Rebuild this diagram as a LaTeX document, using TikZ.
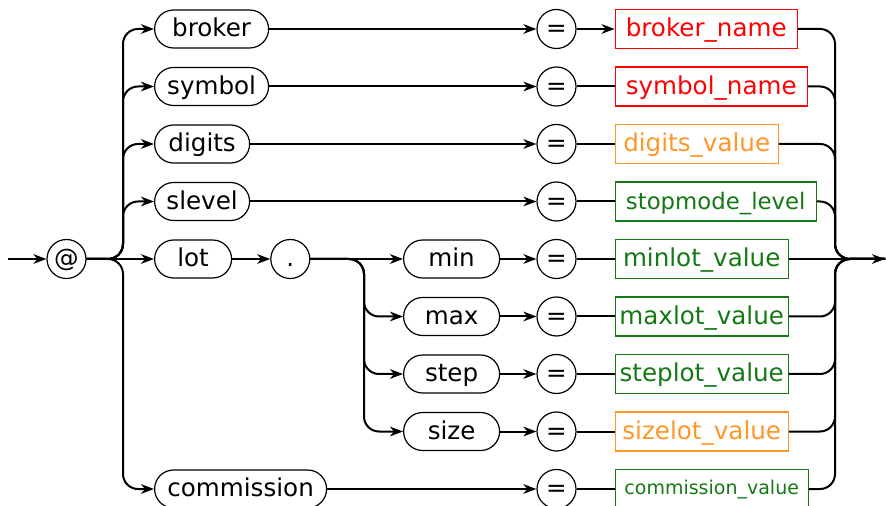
\documentclass[tikz,border=0pt]{standalone}
\usepackage{fontspec}
\setmainfont{DejaVu Sans}
\usetikzlibrary{shapes.geometric, arrows.meta, calc, positioning}
\definecolor{valred}{RGB}{255,0,0}
\definecolor{valorange}{RGB}{255,150,40}
\definecolor{valgreen}{RGB}{20,120,20}
\tikzstyle{term} = [rectangle, rounded corners=9.5pt, minimum height=19pt, inner sep=0pt, text height=10pt, text depth=2.3pt, draw=black, line width=0.6pt, font=\fontsize{12.3}{14}\selectfont]
\tikzstyle{sym} = [circle, minimum size=19.5pt, inner sep=0pt, text height=10pt, text depth=2.3pt, draw=black, line width=0.6pt, font=\fontsize{12.3}{14}\selectfont]
\tikzstyle{value} = [rectangle, minimum height=19.5pt, inner sep=0pt, text height=10pt, text depth=2.3pt, line width=0.6pt, font=\fontsize{12.3}{14}\selectfont]
\tikzstyle{valuered} = [value, draw=valred, text=valred]
\tikzstyle{valueorange} = [value, draw=valorange, text=valorange]
\tikzstyle{valuegreen} = [value, draw=valgreen, text=valgreen]
\tikzstyle{line} = [line width=1pt, rounded corners=7.5pt]
\tikzstyle{arrow} = [line, ->, >={Stealth[length=6.5pt, width=4.8pt, inset=2pt]}]

\begin{document}
\begin{tikzpicture}[x=0.5pt, y=-0.5pt, node distance=28.75pt]
\useasboundingbox (0,0) rectangle (886,506);

\node (at) [sym] at (66.5,259) {@};

% the "=" column
\node (eqbroker) [sym] at (556.5,29) {=};
\node (eqsymbol) [sym, below of=eqbroker] {=};
\node (eqdigits) [sym, below of=eqsymbol] {=};
\node (eqslevel) [sym, below of=eqdigits] {=};
\node (eqmin) [sym, below of=eqslevel] {=};
\node (eqmax) [sym, below of=eqmin] {=};
\node (eqstep) [sym, below of=eqmax] {=};
\node (eqsize) [sym, below of=eqstep] {=};
\node (eqcomm) [sym, below of=eqsize] {=};

% keywords
\node (broker) [term, minimum width=57pt, anchor=west] at (154,29) {broker};
\node (symbol) [term, minimum width=57pt, anchor=west] at (broker.west |- eqsymbol) {symbol};
\node (digits) [term, minimum width=47.5pt, anchor=west] at (broker.west |- eqdigits) {digits};
\node (slevel) [term, minimum width=47.5pt, anchor=west] at (broker.west |- eqslevel) {slevel};
\node (lot) [term, minimum width=38.5pt, anchor=west] at (broker.west |- eqmin) {lot};
\node (commission) [term, minimum width=86pt, anchor=west] at (broker.west |- eqcomm) {commission};
\node (dot) [sym, right=19pt of lot] {.};

\node (min) [term, minimum width=48pt, anchor=west] at (403,259) {min};
\node (max) [term, minimum width=48pt, below of=min] {max};
\node (step) [term, minimum width=48pt, below of=max] {step};
\node (size) [term, minimum width=48pt, below of=step] {size};

% values
\node (brokername) [valuered, minimum width=91pt, right=19pt of eqbroker] {broker\_name};
\node (symbolname) [valuered, minimum width=96pt, right=19pt of eqsymbol] {symbol\_name};
\node (digitsvalue) [valueorange, minimum width=81.5pt, right=19pt of eqdigits] {digits\_value};
\node (stopmode) [valuegreen, minimum width=100.5pt, font=\fontsize{11.4}{14}\selectfont, right=19pt of eqslevel] {stopmode\_level};
\node (minlot) [valuegreen, minimum width=86.5pt, right=19pt of eqmin] {minlot\_value};
\node (maxlot) [valuegreen, minimum width=86.5pt, right=19pt of eqmax] {maxlot\_value};
\node (steplot) [valuegreen, minimum width=86.5pt, right=19pt of eqstep] {steplot\_value};
\node (sizelot) [valueorange, minimum width=86.5pt, right=19pt of eqsize] {sizelot\_value};
\node (commvalue) [valuegreen, minimum width=96.5pt, text height=7.5pt, text depth=2pt, font=\fontsize{9.5}{11}\selectfont, right=19pt of eqcomm] {commission\_value};

\coordinate (entry) at (8,259);
\coordinate (exit) at (885,259);
\coordinate (lsplit) at (123,259);
\coordinate (dsplit) at (364,259);
\coordinate (rsplit) at (835,259);

% entry and branches
\draw [arrow] (entry) -- (at);
\draw [arrow] (at.east) -| (lsplit |- broker.west) -- (broker.west);
\draw [arrow] (at.east) -| (lsplit |- symbol.west) -- (symbol.west);
\draw [arrow] (at.east) -| (lsplit |- digits.west) -- (digits.west);
\draw [arrow] (at.east) -| (lsplit |- slevel.west) -- (slevel.west);
\draw [arrow] (at.east) -| (lsplit |- commission.west) -- (commission.west);
\draw [arrow] (at) -- (lot);
\draw [arrow] (lot) -- (dot);

\draw [arrow] (dot) -- (min);
\draw [arrow] (dot.east) -| (dsplit |- max.west) -- (max.west);
\draw [arrow] (dot.east) -| (dsplit |- step.west) -- (step.west);
\draw [arrow] (dot.east) -| (dsplit |- size.west) -- (size.west);

\draw [arrow] (broker) -- (eqbroker);
\draw [arrow] (symbol) -- (eqsymbol);
\draw [arrow] (digits) -- (eqdigits);
\draw [arrow] (slevel) -- (eqslevel);
\draw [arrow] (min) -- (eqmin);
\draw [arrow] (max) -- (eqmax);
\draw [arrow] (step) -- (eqstep);
\draw [arrow] (size) -- (eqsize);
\draw [arrow] (commission) -- (eqcomm);

\draw [arrow] (eqbroker) -- (brokername);
\draw [line] (eqsymbol) -- (symbolname);
\draw [line] (eqdigits) -- (digitsvalue);
\draw [line] (eqslevel) -- (stopmode);
\draw [line] (eqmin) -- (minlot);
\draw [line] (eqmax) -- (maxlot);
\draw [line] (eqstep) -- (steplot);
\draw [line] (eqsize) -- (sizelot);
\draw [line] (eqcomm) -- (commvalue);

% merge and exit
\draw [line] (brokername.east) -| (rsplit) -- (exit);
\draw [line] (symbolname.east) -| (rsplit) -- (exit);
\draw [line] (digitsvalue.east) -| (rsplit) -- (exit);
\draw [line] (stopmode.east) -| (rsplit) -- (exit);
\draw [line] (maxlot.east) -| (rsplit) -- (exit);
\draw [line] (steplot.east) -| (rsplit) -- (exit);
\draw [line] (sizelot.east) -| (rsplit) -- (exit);
\draw [line] (commvalue.east) -| (rsplit) -- (exit);
\draw [arrow] (minlot) -- (exit);

\end{tikzpicture}
\end{document}
